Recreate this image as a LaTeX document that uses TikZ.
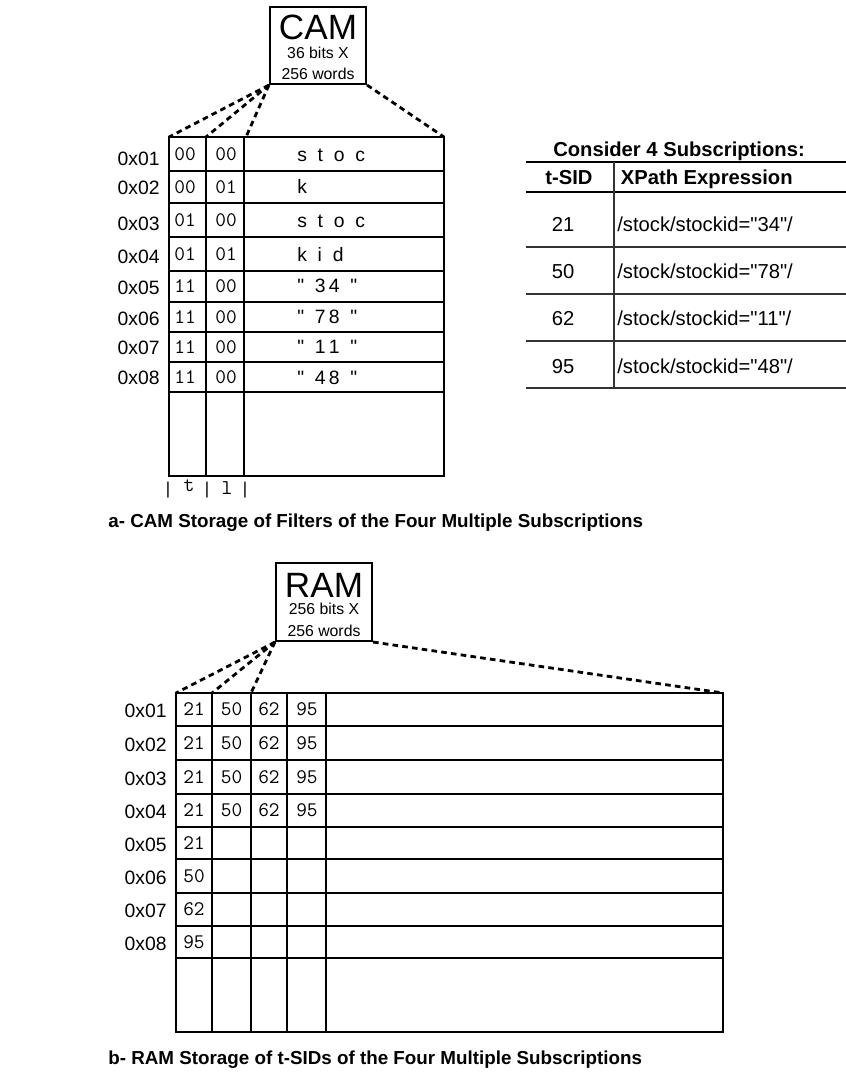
\documentclass[tikz,border=0pt]{standalone}
\usepackage{fontspec}
\setmainfont{Liberation Sans}[Ligatures=TeXOff]
\usetikzlibrary{positioning}

\tikzset{
  membox/.style={draw, line width=1.2pt, minimum width=1.92cm, minimum height=1.54cm, inner sep=0pt},
  fanline/.style={line width=1.6pt, dash pattern=on 3.2pt off 2.4pt},
  cellline/.style={line width=0.8pt},
  txt/.style={inner sep=0pt},
  addr/.style={txt, anchor=east, font=\fontsize{11}{13}\selectfont},
  bits/.style={txt, font=\fontsize{11.8}{13}\ttfamily},
  word/.style={txt, anchor=base west, font=\fontsize{11}{13}\selectfont},
  caption/.style={txt, anchor=base west, font=\fontsize{10.7}{13}\selectfont\bfseries},
  tabtext/.style={txt, font=\fontsize{11.5}{14}\selectfont},
}

\begin{document}
\begin{tikzpicture}[x=0.02cm, y=-0.02cm]
\useasboundingbox (0,0) rectangle (846,1073);

% CAM block
\node[membox] (cam) at (318,45.5) {};
\node[txt, font=\fontsize{20}{20}\selectfont] (camname) at (318,27.7) {CAM};
\node[txt, font=\fontsize{9}{11}\selectfont] (camwidth) at (318,52.5) {36 bits X};
\node[txt, font=\fontsize{9}{11}\selectfont] (camdepth) at (318,74.2) {256 words};

% CAM table
\draw[cellline] (169,137) rectangle (444,476);
\foreach \y in {171,203,237,271,302,332,362,392}
  \draw[cellline] (169,\y) -- (444,\y);
\foreach \x in {206,244}
  \draw[cellline] (\x,137) -- (\x,476);
\coordinate (camtl) at (169,137);
\coordinate (camc1) at (206,137);
\coordinate (camc2) at (246,137);
\coordinate (camtr) at (444,137);

\foreach \n/\ya/\yc/\yb/\t/\l/\w in {
    1/158.7/154/161.7/00/00/{s~~t~~o~~c},
    2/188.3/187/193.3/00/01/k,
    3/224/220/227.3/01/00/{s~~t~~o~~c},
    4/256.5/254/261.7/01/01/{k~~i~~d},
    5/288/286.5/292.7/11/00/{"~~3\,4~~"},
    6/318.8/317/323/11/00/{"~~7\,8~~"},
    7/347.5/347/353/11/00/{"~~1\,1~~"},
    8/377.5/377/384/11/00/{"~~4\,8~~"}}{
  \node[addr] (camaddr\n) at (160,\ya) {0x0\n};
  \node[bits] (camt\n) at (185,\yc) {\t};
  \node[bits] (caml\n) at (226,\yc) {\l};
  \node[word] (camw\n) at (297,\yb) {\w};
}

% field marks under the table
\foreach \x/\c/\y [count=\k] in {168/|/496,189/t/491,207/|/496,227/l/494,245/|/496}
  \node[txt, anchor=base, font=\fontsize{12}{13}\ttfamily] (mark\k) at (\x,\y) {\c};

% fan-out lines
\draw[fanline] (cam.south west) -- (camtl);
\draw[fanline] (cam.south west) -- (camc1);
\draw[fanline] (cam.south west) -- (camc2);
\draw[fanline] (cam.south east) -- (camtr);

% Subscriptions table
\node[tabtext, anchor=base, font=\fontsize{11.5}{14}\selectfont\bfseries] (subhead) at (679,156.7) {Consider 4 Subscriptions:};
\draw[line width=1pt] (526,162) -- (846,162);
\draw[line width=1.5pt] (526,192) -- (846,192);
\foreach \y in {247,294,341,388}
  \draw[line width=0.7pt, black!80] (526,\y) -- (846,\y);
\draw[line width=0.7pt, black!80] (614,162) -- (614,388);
\node[tabtext, anchor=base, font=\fontsize{11.5}{14}\selectfont\bfseries] (hsid) at (569,184) {t-SID};
\node[tabtext, anchor=base west, font=\fontsize{11.5}{14}\selectfont\bfseries] (hxpath) at (620.5,184) {XPath Expression};
\foreach \s/\v/\y in {21/34/231.7, 50/78/278, 62/11/325, 95/48/373}{
  \node[tabtext, anchor=base] (sid\s) at (563,\y) {\s};
  \node[tabtext, anchor=base west] (xp\s) at (617,\y) {/stock/stockid="\v"/};
}

% caption a
\node[caption] (capa) at (108,527) {a- CAM Storage of Filters of the Four Multiple Subscriptions};

% RAM block
\node[membox, minimum height=1.56cm] (ram) at (324,602) {};
\node[txt, font=\fontsize{20}{20}\selectfont] (ramname) at (324,585) {RAM};
\node[txt, font=\fontsize{9}{11}\selectfont] (ramwidth) at (324,609) {256 bits X};
\node[txt, font=\fontsize{9}{11}\selectfont] (ramdepth) at (324,631) {256 words};

% RAM table
\draw[cellline] (176,693) rectangle (723,1032);
\foreach \y in {726,760,794,827,859,893,926,958}
  \draw[cellline] (176,\y) -- (723,\y);
\foreach \x in {212,251,287,326}
  \draw[cellline] (\x,693) -- (\x,1032);
\coordinate (ramtl) at (176,693);
\coordinate (ramc1) at (212,693);
\coordinate (ramc2) at (251,693);
\coordinate (ramtr) at (723,693);

\foreach \n/\y in {1/709.5,2/743,3/777,4/810.5}{
  \node[addr] (ramaddr\n) at (167,\y+1.5) {0x0\n};
  \node[bits] (ramA\n) at (194,\y) {21};
  \node[bits] (ramB\n) at (231.5,\y) {50};
  \node[bits] (ramC\n) at (269,\y) {62};
  \node[bits] (ramD\n) at (307,\y) {95};
}
\foreach \n/\y/\s in {5/843/21,6/876/50,7/909.5/62,8/942/95}{
  \node[addr] (ramaddr\n) at (167,\y+1.5) {0x0\n};
  \node[bits] (ramA\n) at (194,\y) {\s};
}

% fan-out lines
\draw[fanline] (ram.south west) -- (ramtl);
\draw[fanline] (ram.south west) -- (ramc1);
\draw[fanline] (ram.south west) -- (ramc2);
\draw[fanline] (ram.south east) -- (ramtr);

% caption b
\node[caption] (capb) at (108,1064) {b- RAM Storage of t-SIDs of the Four Multiple Subscriptions};

\end{tikzpicture}
\end{document}
